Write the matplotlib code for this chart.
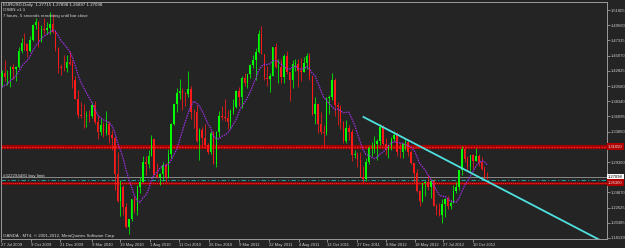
import matplotlib
matplotlib.use("Agg")
import matplotlib.pyplot as plt
import matplotlib.dates as mdates
import numpy as np
import pandas as pd

plt.rcParams['font.family'] = ['Liberation Sans Narrow', 'Liberation Sans', 'DejaVu Sans']

# ---------------- data (weekly EURUSD) ----------------
first_week = "2009-06-01"
first_open = 1.4150
closes = [
    1.3975, 1.3950, 1.3950, 1.4030, 1.3980, 1.3960, 1.4100, 1.4190,
    1.4250, 1.4185, 1.4190, 1.4340, 1.4310, 1.4340, 1.4570, 1.4700, 1.4685, 1.4575,
    1.4740, 1.4960, 1.5010, 1.4720, 1.4900, 1.4880, 1.4910, 1.4970, 1.4860, 1.4620,
    1.4340, 1.4330, 1.4320,
    # 2010
    1.4410, 1.4380, 1.4140, 1.3870, 1.3630, 1.3620, 1.3610, 1.3630, 1.3620, 1.3780,
    1.3530, 1.3380, 1.3480, 1.3370, 1.3500, 1.3330, 1.3290, 1.2760, 1.2360, 1.2560,
    1.2270, 1.1970, 1.2100, 1.2390, 1.2230, 1.2560, 1.2640, 1.2940, 1.2910, 1.3030,
    1.3280, 1.2750, 1.2710, 1.2760, 1.2890, 1.2710, 1.3050, 1.3490, 1.3790, 1.3960,
    1.3980, 1.3960, 1.3940, 1.4020, 1.3680, 1.3670, 1.3240, 1.3410, 1.3290, 1.3190,
    1.3080, 1.3370,
    # 2011
    1.2910, 1.3380, 1.3620, 1.3600, 1.3580, 1.3530, 1.3690, 1.3750, 1.3990, 1.3900,
    1.4180, 1.4100, 1.4230, 1.4370, 1.4440, 1.4560, 1.4820, 1.4530, 1.4180, 1.4160,
    1.4200, 1.4640, 1.4340, 1.4340, 1.4190, 1.4500, 1.4260, 1.4150, 1.4390, 1.4390,
    1.4280, 1.4260, 1.4400, 1.4500, 1.4200, 1.3650, 1.3790, 1.3490, 1.3380, 1.3370,
    1.3880, 1.3890, 1.4150, 1.3780, 1.3750, 1.3530, 1.3240, 1.3440, 1.3380, 1.3040,
    1.3050, 1.2960,
    # 2012
    1.2720, 1.2680, 1.2930, 1.3140, 1.3150, 1.3200, 1.3240, 1.3450, 1.3200, 1.3110,
    1.3170, 1.3270, 1.3340, 1.3090, 1.3080, 1.3220, 1.3230, 1.3080, 1.2920, 1.2780,
    1.2510, 1.2360, 1.2620, 1.2640, 1.2570, 1.2660, 1.2290, 1.2240, 1.2150, 1.2320,
    1.2390, 1.2280, 1.2330, 1.2510, 1.2570, 1.2820, 1.3130, 1.2980, 1.2860, 1.3040,
    1.2950, 1.3020, 1.2940, 1.2830, 1.2710, 1.27098,
]
highs = [
    1.4340, 1.4130, 1.4140, 1.4090, 1.4210, 1.4060, 1.4190, 1.4290,
    1.4300, 1.4445, 1.4300, 1.4350, 1.4390, 1.4350, 1.4630, 1.4770, 1.4845, 1.4700,
    1.4790, 1.4980, 1.5060, 1.5020, 1.4960, 1.5060, 1.5010, 1.5145, 1.5125, 1.4880,
    1.4640, 1.4380, 1.4510,
    # 2010
    1.4510, 1.4580, 1.4440, 1.4200, 1.4000, 1.3820, 1.3790, 1.3690, 1.3700, 1.3820,
    1.3830, 1.3620, 1.3580, 1.3520, 1.3690, 1.3540, 1.3410, 1.3320, 1.3090, 1.2670,
    1.2590, 1.2330, 1.2100, 1.2390, 1.2430, 1.2590, 1.2720, 1.3030, 1.3030, 1.3110,
    1.3330, 1.3280, 1.2920, 1.2770, 1.2930, 1.2920, 1.3130, 1.3510, 1.3790, 1.4030,
    1.4160, 1.4030, 1.3970, 1.4280, 1.4060, 1.3720, 1.3780, 1.3440, 1.3450, 1.3500,
    1.3220, 1.3390,
    # 2011
    1.3390, 1.3390, 1.3690, 1.3760, 1.3860, 1.3710, 1.3720, 1.3860, 1.4000, 1.4040,
    1.4200, 1.4250, 1.4240, 1.4390, 1.4520, 1.4620, 1.4880, 1.4940, 1.4530, 1.4350,
    1.4250, 1.4640, 1.4700, 1.4450, 1.4450, 1.4530, 1.4580, 1.4260, 1.4440, 1.4450,
    1.4450, 1.4470, 1.4480, 1.4550, 1.4550, 1.4200, 1.3890, 1.3790, 1.3670, 1.3480,
    1.3900, 1.3920, 1.4250, 1.4170, 1.3820, 1.3780, 1.3540, 1.3550, 1.3480, 1.3420,
    1.3120, 1.3090,
    # 2012
    1.3080, 1.2880, 1.2990, 1.3170, 1.3230, 1.3320, 1.3270, 1.3490, 1.3480, 1.3290,
    1.3190, 1.3300, 1.3390, 1.3380, 1.3210, 1.3220, 1.3280, 1.3280, 1.3110, 1.2920,
    1.2830, 1.2520, 1.2620, 1.2650, 1.2750, 1.2690, 1.2680, 1.2310, 1.2330, 1.2390,
    1.2400, 1.2440, 1.2370, 1.2590, 1.2640, 1.2820, 1.3170, 1.3170, 1.3020, 1.3040,
    1.3050, 1.3140, 1.3050, 1.3010, 1.2880, 1.27898,
]
lows = [
    1.3950, 1.3850, 1.3760, 1.3850, 1.3920, 1.3850, 1.3910, 1.4080,
    1.4050, 1.4130, 1.4070, 1.4045, 1.4160, 1.4130, 1.4320, 1.4540, 1.4585, 1.4480,
    1.4560, 1.4720, 1.4900, 1.4630, 1.4710, 1.4830, 1.4830, 1.4830, 1.4840, 1.4580,
    1.4250, 1.4220, 1.4280,
    # 2010
    1.4260, 1.4370, 1.4030, 1.3860, 1.3590, 1.3580, 1.3440, 1.3450, 1.3530, 1.3590,
    1.3500, 1.3270, 1.3340, 1.3300, 1.3340, 1.3220, 1.3120, 1.2520, 1.2350, 1.2140,
    1.2150, 1.1960, 1.1876, 1.2060, 1.2180, 1.2150, 1.2480, 1.2640, 1.2740, 1.2850,
    1.3030, 1.2750, 1.2700, 1.2590, 1.2660, 1.2640, 1.2700, 1.3000, 1.3480, 1.3680,
    1.3860, 1.3700, 1.3760, 1.3900, 1.3570, 1.3440, 1.3230, 1.2970, 1.3160, 1.3150,
    1.3060, 1.3060,
    # 2011
    1.2900, 1.2860, 1.3300, 1.3560, 1.3540, 1.3430, 1.3440, 1.3650, 1.3740, 1.3770,
    1.3730, 1.4060, 1.4030, 1.4170, 1.4330, 1.4150, 1.4550, 1.4530, 1.4140, 1.4060,
    1.3970, 1.4200, 1.4330, 1.4100, 1.4100, 1.4100, 1.4240, 1.3840, 1.4030, 1.4280,
    1.4050, 1.4130, 1.4260, 1.4310, 1.4150, 1.3630, 1.3500, 1.3360, 1.3350, 1.3150,
    1.3330, 1.3650, 1.3850, 1.3610, 1.3480, 1.3420, 1.3210, 1.3210, 1.3260, 1.2950,
    1.2990, 1.2860,
    # 2012
    1.2710, 1.2620, 1.2660, 1.2900, 1.3020, 1.3070, 1.2970, 1.3190, 1.3190, 1.3040,
    1.3000, 1.3120, 1.3240, 1.3030, 1.3000, 1.2990, 1.3110, 1.3020, 1.2910, 1.2640,
    1.2500, 1.2290, 1.2350, 1.2440, 1.2520, 1.2400, 1.2280, 1.2160, 1.2140, 1.2040,
    1.2130, 1.2240, 1.2240, 1.2330, 1.2480, 1.2520, 1.2750, 1.2940, 1.2800, 1.2800,
    1.2830, 1.2950, 1.2880, 1.2820, 1.2690, 1.26897,
]
ma_period = 9

# horizontal levels and trend line
resistance_level = 1.3165
support_level = 1.2630
buy_limit_level = 1.2665
bid_price = 1.27098
trend_dates = ["2012-01-12", "2013-08-20"]
trend_prices = [1.3601, 1.1785]

# axis ticks / labels (the 1.31605 and 1.27115 labels are hidden under the level labels)
ytick_values = [1.51805, 1.49560, 1.47315, 1.45070, 1.42825, 1.40580, 1.38340, 1.36095,
                1.33850, 1.29360, 1.24870, 1.22625, 1.20385, 1.18139]
xtick_dates = ["2009-07-27", "2009-10-09", "2009-12-21", "2010-03-09", "2010-05-19",
               "2010-08-01", "2010-10-11", "2010-12-26", "2011-03-09", "2011-05-22",
               "2011-08-04", "2011-10-13", "2011-12-27", "2012-03-08", "2012-05-18",
               "2012-07-27", "2012-10-10"]
xtick_labels = ["27 Jul 2009", "9 Oct 2009", "21 Dec 2009", "9 Mar 2010", "19 May 2010",
                "1 Aug 2010", "11 Oct 2010", "26 Dec 2010", "9 Mar 2011", "22 May 2011",
                "4 Aug 2011", "13 Oct 2011", "27 Dec 2011", "8 Mar 2012", "18 May 2012",
                "27 Jul 2012", "10 Oct 2012"]
x_range = ["2009-07-27", "2013-09-07"]
y_range = [1.1799, 1.5299]

header1 = "EURUSD,Daily  1.27715 1.27898 1.26897 1.27098"
header2 = "OSBN v1.1"
header3 = "7 hours, 5 seconds remaining until bar close"
footer = "OANDA - MT4, \u00a9 2001-2012, MetaQuotes Software Corp."
order_label = "#322294481 buy limit"

# ---------------- drawing ----------------
BG = '#242424'
W, H = 625, 248
fig = plt.figure(figsize=(W / 100, H / 100), dpi=100, facecolor=BG)
ax = fig.add_axes([1 / W, 9 / H, 606 / W, 237 / H], facecolor=BG)

c = np.array(closes)
hi = np.array(highs)
lo = np.array(lows)
o = np.array([first_open] + closes[:-1])
dates = pd.date_range(first_week, periods=len(c), freq='7D')
x = mdates.date2num(dates.to_pydatetime()) + 2.0

up = c >= o
cols = np.where(up, '#00ff00', '#ff1a1a')
ax.vlines(x, lo, hi, colors=cols, linewidth=0.55, zorder=3)
body_lo = np.minimum(o, c)
body_h = np.maximum(np.abs(c - o), 0.0009)
ax.bar(x, body_h, bottom=body_lo, width=3.6, color=cols, linewidth=0, zorder=3)

ma = pd.Series(c).rolling(ma_period).mean().to_numpy()
ax.plot(x, ma, color='#9d2fe0', linewidth=0.9, linestyle=(0, (1.2, 0.8)), zorder=4)

# levels
ax.axhline(resistance_level, color='#9c0000', linewidth=3.0, zorder=2)
ax.axhline(resistance_level, color='#ff2a2a', linewidth=1.0, linestyle=(0, (1, 1)), zorder=2)
ax.axhline(support_level, color='#a00000', linewidth=1.8, zorder=2)
ax.axhline(support_level, color='#ff2a2a', linewidth=0.7, linestyle=(0, (1, 1)), zorder=2)
ax.axhline(bid_price, color='#8a8a8a', linewidth=0.7, zorder=2)
ax.axhline(buy_limit_level, color='#1f9c9c', linewidth=0.8, linestyle=(0, (4, 2, 1, 2)), zorder=2)

# trend line
tx = mdates.date2num(pd.to_datetime(trend_dates).to_pydatetime())
ax.plot(tx, trend_prices, color='#4fe0e0', linewidth=1.3, zorder=5)

ax.set_xlim(mdates.date2num(pd.to_datetime(x_range).to_pydatetime()))
ax.set_ylim(y_range)

for s in ax.spines.values():
    s.set_color('#9a9a9a')
    s.set_linewidth(0.7)

FS = 3.0
ax.yaxis.tick_right()
ax.set_yticks(ytick_values)
ax.set_yticklabels([f"{v:.5f}" for v in ytick_values])
ax.tick_params(axis='y', direction='out', length=2, width=0.6, colors='#9a9a9a',
               labelcolor='#cfcfcf', labelsize=FS, pad=1)
ax.set_xticks(mdates.date2num(pd.to_datetime(xtick_dates).to_pydatetime()))
ax.set_xticklabels(xtick_labels, ha='left')
ax.tick_params(axis='x', direction='out', length=2, width=0.6, colors='#9a9a9a',
               labelcolor='#cfcfcf', labelsize=FS, pad=1)

# price labels on the axis
ytr = ax.get_yaxis_transform()
ax.text(1.002, bid_price, f"{bid_price:.5f}", transform=ytr, ha='left', va='center',
        fontsize=FS, color='#000000', clip_on=False, zorder=10,
        bbox=dict(boxstyle='square,pad=0.3', facecolor='#ffffff', edgecolor='none'))
for lvl in (resistance_level, support_level):
    ax.text(1.002, lvl, f"{lvl:.5f}", transform=ytr, ha='left', va='center',
            fontsize=FS, color='#e8e8e8', clip_on=False, zorder=10,
            bbox=dict(boxstyle='square,pad=0.3', facecolor='#b00000', edgecolor='none'))

# texts
def ftext(px, py, s, color='#d8d8d8'):
    fig.text(px / W, 1 - py / H, s, ha='left', va='center', fontsize=FS + 0.2, color=color)

ftext(3, 5, header1, '#e8e8e8')
ftext(3, 10, header2)
ftext(3, 15.5, header3)
ftext(3, 176, order_label)
ftext(3, 235.5, footer)

fig.savefig("out.png", dpi=100, facecolor=BG)
